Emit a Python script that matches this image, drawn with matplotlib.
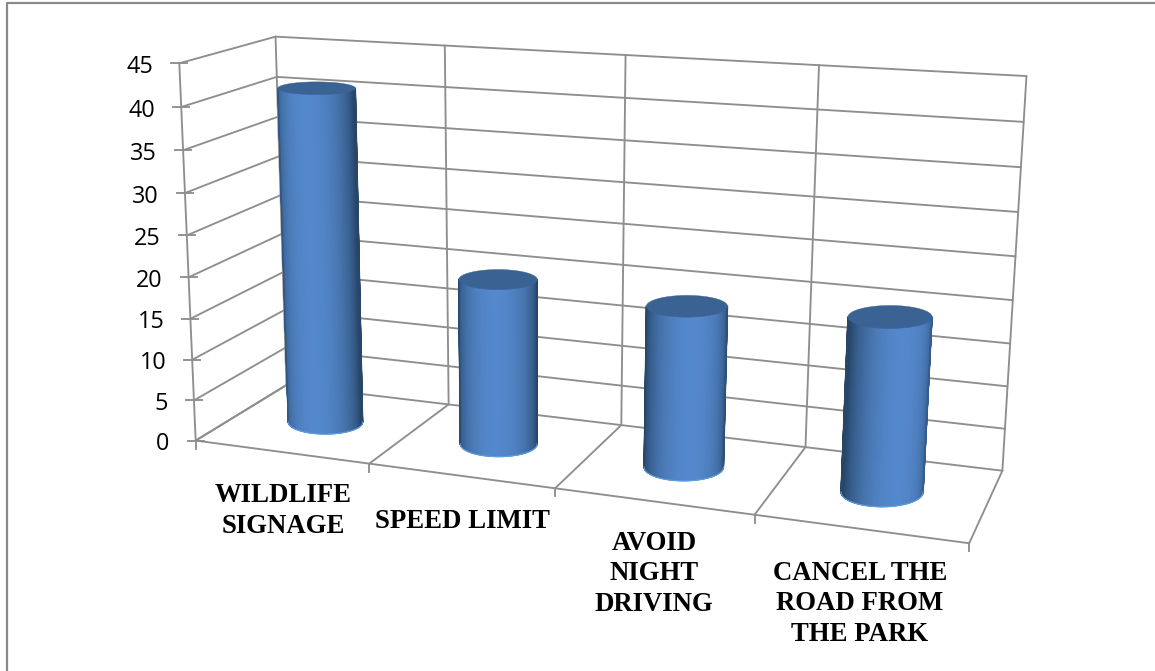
import numpy as np
import matplotlib
matplotlib.use("Agg")
import matplotlib.pyplot as plt
from matplotlib.colors import LinearSegmentedColormap

categories = ["WILDLIFE\nSIGNAGE", "SPEED LIMIT", "AVOID\nNIGHT\nDRIVING", "CANCEL THE\nROAD FROM\nTHE PARK"]
values = [41, 20, 19, 20]
y_ticks = [0, 5, 10, 15, 20, 25, 30, 35, 40, 45]

GRID = "#8e8e8e"
TOP = "#3a6293"
RIM = "#5f9ede"
shade = LinearSegmentedColormap.from_list("shade", ["#274668", "#5488cc"])

# box corners (category, depth, value) and where they land on the canvas
box_3d = [(0, 0, 0), (4, 0, 0), (0, 1, 0), (4, 1, 0), (0, 0, 45), (0, 1, 45), (4, 1, 45)]
box_2d = [(199, 441), (969, 543), (283, 384.5), (1003, 471), (176, 63), (279, 37), (1026, 76)]


def fit_camera(pts3, pts2):
    # direct linear transform for the 3x4 projective matrix
    rows = []
    for (x, y, z), (u, v) in zip(pts3, pts2):
        rows.append([x, y, z, 1, 0, 0, 0, 0, -u * x, -u * y, -u * z, -u])
        rows.append([0, 0, 0, 0, x, y, z, 1, -v * x, -v * y, -v * z, -v])
    _, _, vt = np.linalg.svd(np.array(rows, dtype=float))
    return vt[-1].reshape(3, 4)


cam = fit_camera([(x, y, z / 45) for x, y, z in box_3d], box_2d)


def project(x, y, z):
    x, y, z = np.broadcast_arrays(np.asarray(x, float), np.asarray(y, float), np.asarray(z, float) / 45)
    p = cam @ np.stack([x, y, z, np.ones_like(x, dtype=float)])
    return p[0] / p[2], p[1] / p[2]


def seg(ax, a, b, lw=1.35, z=1):
    xs, ys = project([a[0], b[0]], [a[1], b[1]], [a[2], b[2]])
    ax.plot(xs, ys, color=GRID, lw=lw, zorder=z, solid_capstyle="round")


def disc(cx, z, r_x, r_y):
    # level ellipse for a cylinder end: centre plus on-screen half axes
    x0, y0 = project(cx, 0.5, z)
    xl, _ = project(cx - r_x, 0.5, z)
    xr, _ = project(cx + r_x, 0.5, z)
    _, yf = project(cx, 0, z)
    _, yb = project(cx, 1, z)
    return float(x0), float(y0), float(xr - xl) / 2, r_y * float(yf - yb)


fig = plt.figure(figsize=(11.55, 6.71), dpi=100)
ax = fig.add_axes([0, 0, 1, 1])
ax.axis("off")

# outer frame, only top and left show
ax.plot([7, 7, 1155], [671, 2.5, 2.5], color="#8a8a8a", lw=1.6, zorder=1)

# walls and floor
for t in y_ticks:
    seg(ax, (0, 0, t), (0, 1, t))
    seg(ax, (0, 1, t), (4, 1, t))
    x0, y0 = project(0, 0, t)
    ax.plot([x0 - 8, x0 + 8], [y0, y0], color=GRID, lw=1.35, zorder=1)
    ax.text(x0 - 26, y0 + 3.5, str(t), ha="right", va="center", fontsize=16.8,
            family="Open Sans", color="black")
seg(ax, (0, 0, 0), (0, 0, 45))
seg(ax, (0, 0, 0), (4, 0, 0))
for i in range(5):
    seg(ax, (i, 1, 0), (i, 1, 45))
    seg(ax, (i, 0, 0), (i, 1, 0))
    xt, yt = project(i, 0, 0)
    ax.plot([xt, xt], [yt, yt + 8], color=GRID, lw=1.35, zorder=1)

# cylinders, the highlight drifts across the row
phi = np.radians(np.linspace(-90, 90, 121))
theta = np.linspace(-np.pi, np.pi, 181)
r_y = 0.21
for i, val in enumerate(values):
    cx = i + 0.5
    r_x = 0.222 - 0.0073 * i
    bx, by, brx, bry = disc(cx, 0, r_x, r_y)
    tx, ty, trx, try_ = disc(cx, val, r_x, r_y)
    s = np.sin(phi)
    c = np.cos(phi)
    x_base, y_base = bx + brx * s, by + bry * c
    x_top, y_top = tx + trx * s, ty + try_ * c
    lit = np.radians(-15 + 11.7 * i)
    f = np.clip(np.cos(phi - lit), 0, 1)
    ax.pcolormesh(np.vstack([x_base, x_top]), np.vstack([y_base, y_top]), np.vstack([f, f]),
                  cmap=shade, vmin=0, vmax=1, shading="gouraud", zorder=3)
    # antialiased side edges over the mesh boundary
    ax.plot([x_base[0], x_top[0]], [y_base[0], y_top[0]], color=shade(f[0]), lw=1.0, zorder=4)
    ax.plot([x_base[-1], x_top[-1]], [y_base[-1], y_top[-1]], color=shade(f[-1]), lw=1.0, zorder=4)
    ax.plot(x_base, y_base, color=RIM, lw=0.8, zorder=4)
    ax.fill(tx + trx * np.cos(theta), ty + try_ * np.sin(theta), color=TOP, lw=0.3, zorder=5)

ax.set_xlim(0, 1155)
ax.set_ylim(671, 0)

# category labels
label_pos = [(283, 511), (462, 521), (654, 574), (860, 604)]
for name, (lx, ly) in zip(categories, label_pos):
    ax.text(lx, ly, name, ha="center", va="center", fontsize=19.3, fontweight="bold",
            family="Liberation Serif", color="black", linespacing=1.29)

fig.savefig("out.png", dpi=100)
